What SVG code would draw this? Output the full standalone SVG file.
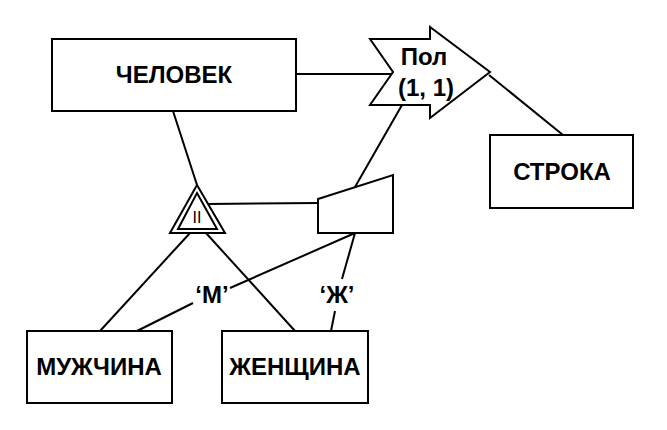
<svg xmlns="http://www.w3.org/2000/svg" width="667" height="430" viewBox="0 0 667 430">
<style>
.box{fill:#fff;stroke:#000;stroke-width:2}
.ln{fill:none;stroke:#000;stroke-width:2}
.t{font-family:"Liberation Sans",Arial,sans-serif;font-weight:bold;font-size:24px;fill:#000;text-anchor:middle}
.s{font-family:"Liberation Sans",Arial,sans-serif;font-size:16px;fill:#000;text-anchor:middle}
</style>
<rect width="667" height="430" fill="#fff"/>
<g id="connectors">
<line class="ln" x1="296" y1="74" x2="392" y2="74"/>
<line class="ln" x1="489" y1="75" x2="563" y2="135"/>
<line class="ln" x1="173" y1="111" x2="197" y2="185"/>
<line class="ln" x1="208" y1="204" x2="318" y2="203"/>
<line class="ln" x1="355" y1="187" x2="402" y2="105"/>
<line class="ln" x1="190" y1="233" x2="100" y2="331"/>
<line class="ln" x1="206" y1="233" x2="295" y2="331"/>
<line class="ln" x1="355" y1="233" x2="230" y2="288"/>
<line class="ln" x1="193" y1="303" x2="137" y2="331"/>
<line class="ln" x1="355" y1="233" x2="342" y2="279"/>
<line class="ln" x1="335" y1="311" x2="331" y2="331"/>
<text class="t" x="212" y="303">‘М’</text>
<text class="t" x="337" y="303">‘Ж’</text>
</g>
<g id="chelovek">
<rect class="box" x="52" y="39" width="244" height="72"/>
<text class="t" x="174" y="83">ЧЕЛОВЕК</text>
</g>
<g id="pol">
<polygon class="box" points="370,39 393,72 370,105 430,105 430,118 490,72 430,27 430,39"/>
<text class="t" x="424" y="65">Пол</text>
<text class="t" x="426" y="96">(1, 1)</text>
</g>
<g id="stroka">
<rect class="box" x="490" y="135" width="143" height="73"/>
<text class="t" x="562" y="180">СТРОКА</text>
</g>
<g id="isa">
<polygon class="box" points="197,185 225,233 170,233"/>
<polygon class="ln" points="197,193 217,229 178,229"/>
<text class="s" x="197" y="223" fill="#000">II</text>
</g>
<g id="discriminator">
<polygon class="box" points="318,199 393,175 393,233 318,233"/>
</g>
<g id="muzhchina">
<rect class="box" x="27" y="331" width="145" height="72"/>
<text class="t" x="99" y="375">МУЖЧИНА</text>
</g>
<g id="zhenshchina">
<rect class="box" x="222" y="331" width="146" height="72"/>
<text class="t" x="295" y="375">ЖЕНЩИНА</text>
</g>
</svg>
